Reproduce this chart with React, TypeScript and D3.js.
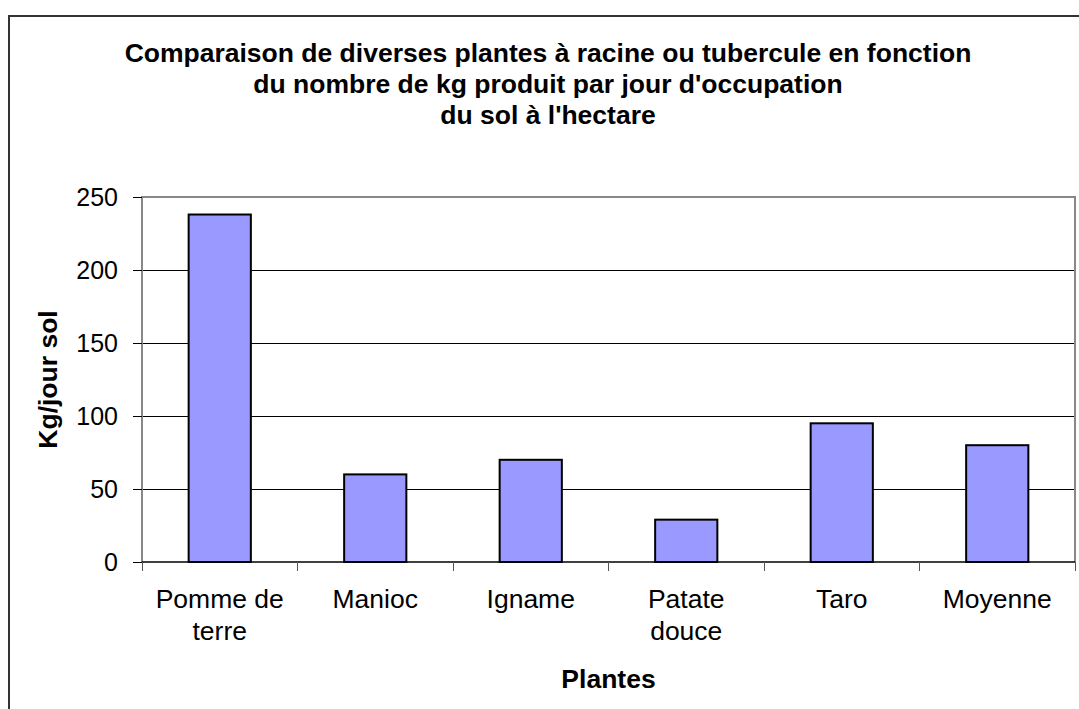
import React from "react";
import * as d3 from "d3";

// données
const categories = ["Pomme de\nterre", "Manioc", "Igname", "Patate\ndouce", "Taro", "Moyenne"];
const values = [238, 60, 70, 29, 95, 80];
const yTicks = [0, 50, 100, 150, 200, 250];
const titleLines = [
  "Comparaison de diverses plantes à racine ou tubercule en fonction",
  "du nombre de kg produit par jour d'occupation",
  "du sol à l'hectare",
];

const W = 1079;
const H = 709;
const margin = { left: 142, top: 197, right: 1075, bottom: 562 };
const FONT = "'Liberation Sans', Arial, sans-serif";

const App = () => {
  const x = d3
    .scaleBand<string>()
    .domain(categories)
    .range([margin.left, margin.right])
    .paddingInner(0.6)
    .paddingOuter(0.3);
  const y = d3.scaleLinear().domain([0, 250]).range([margin.bottom, margin.top]);
  const bounds = d3.range(categories.length + 1).map((i) => margin.left + (margin.right - margin.left) * (i / categories.length));

  return (
    <div style={{ position: "absolute", left: 0, top: 0 }}>
      <svg width={W} height={H} style={{ display: "block", background: "#fff" }} fontFamily={FONT}>
        <rect x={9} y={16} width={1200} height={900} fill="none" stroke="#333" strokeWidth={2} />

        {titleLines.map((t, i) => (
          <text key={i} x={548} y={62 + i * 31} textAnchor="middle" fontSize={26.5} fontWeight="bold" fill="#000">
            {t}
          </text>
        ))}

        {/* grid lines */}
        {yTicks.filter((v) => v > 0 && v < 250).map((v) => (
          <line key={v} x1={margin.left} x2={margin.right} y1={y(v)} y2={y(v)} stroke="#000" strokeWidth={1} shapeRendering="crispEdges" />
        ))}

        {/* plot border */}
        <path
          d={`M${margin.left},${margin.bottom}V${margin.top}H${margin.right}V${margin.bottom}`}
          fill="none"
          stroke="#888"
          strokeWidth={2}
        />

        {/* bars */}
        {categories.map((c, i) => (
          <rect
            key={c}
            x={x(c)}
            y={y(values[i])}
            width={x.bandwidth()}
            height={y(0) - y(values[i])}
            fill="#9999ff"
            stroke="#000"
            strokeWidth={2}
          />
        ))}

        {/* x axis */}
        <line x1={margin.left} x2={margin.right} y1={margin.bottom} y2={margin.bottom} stroke="#000" strokeWidth={1.5} />
        {bounds.map((bx, i) => (
          <line key={i} x1={bx} x2={bx} y1={margin.bottom} y2={margin.bottom + 9} stroke="#555" strokeWidth={1} shapeRendering="crispEdges" />
        ))}

        {/* y ticks */}
        {yTicks.map((v) => (
          <g key={v}>
            <line x1={margin.left - 9} x2={margin.left} y1={y(v)} y2={y(v)} stroke="#000" strokeWidth={1} shapeRendering="crispEdges" />
            <text x={118} y={y(v) + 8.5} textAnchor="end" fontSize={25} fill="#000">
              {v}
            </text>
          </g>
        ))}

        {/* category labels */}
        {categories.map((c) => (
          <text key={c} textAnchor="middle" fontSize={26.5} fill="#000">
            {c.split("\n").map((line, j) => (
              <tspan key={j} x={(x(c) ?? 0) + x.bandwidth() / 2} y={608 + j * 32}>
                {line}
              </tspan>
            ))}
          </text>
        ))}

        <text x={(margin.left + margin.right) / 2} y={688} textAnchor="middle" fontSize={26.5} fontWeight="bold">
          Plantes
        </text>
        <text
          transform={`translate(57,${(margin.top + margin.bottom) / 2}) rotate(-90)`}
          textAnchor="middle"
          fontSize={26.5}
          fontWeight="bold"
        >
          Kg/jour sol
        </text>
      </svg>
    </div>
  );
};

export default App;
